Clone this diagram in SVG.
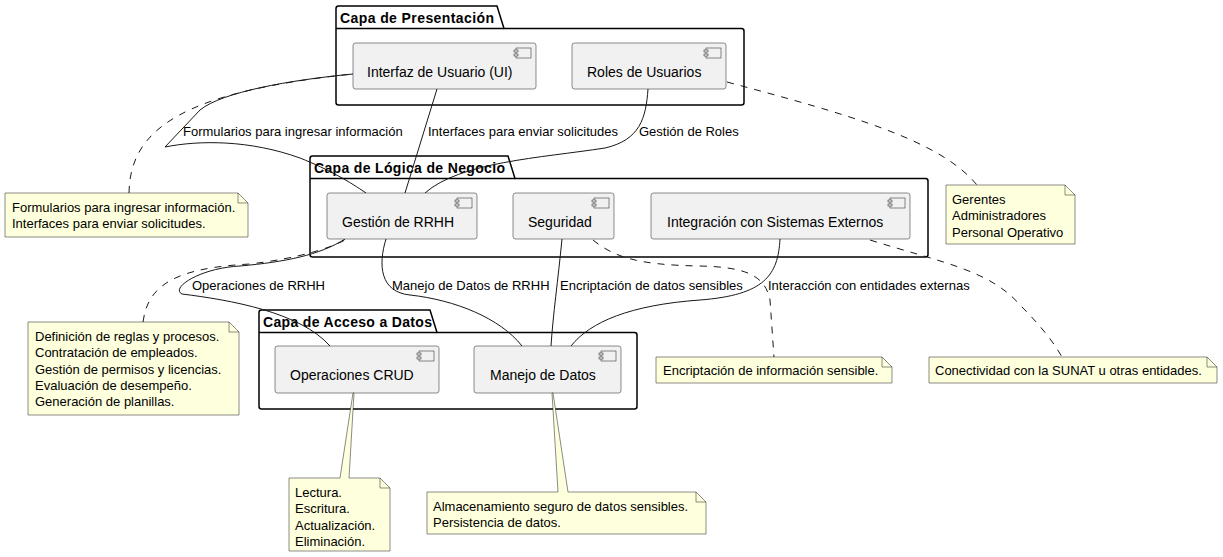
<svg xmlns="http://www.w3.org/2000/svg" width="1223" height="557" viewBox="0 0 1223 557">
<style>
text{font-family:"Liberation Sans",Arial,sans-serif;fill:#000}
.pt{font-size:14px;font-weight:bold}
.ct{font-size:14px}
.lt{font-size:13px}
.nt{font-size:13px}
.pkg{fill:none;stroke:#000;stroke-width:1.5}
.comp{fill:#F1F1F1;stroke:#181818;stroke-width:0.5}
.icon{fill:#F1F1F1;stroke:#181818;stroke-width:0.5}
.note{fill:#FEFFDD;stroke:#181818;stroke-width:0.5}
.fold{fill:none;stroke:#181818;stroke-width:0.5}
.edge{fill:none;stroke:#181818;stroke-width:1}
.dash{fill:none;stroke:#181818;stroke-width:1;stroke-dasharray:7,7}
</style>
<defs>
<g id="cicon">
<rect class="icon" x="0" y="0" width="15" height="10"/>
<rect class="icon" x="-2" y="2" width="4" height="2"/>
<rect class="icon" x="-2" y="6" width="4" height="2"/>
</g>
</defs>
<rect width="1223" height="557" fill="#FFFFFF"/>

<g id="pkg-presentacion">
<path class="pkg" d="M338.5,6 L497,6 L504,28.5 L741.5,28.5 A2.5,2.5 0 0 1 744,31 L744,102.5 A2.5,2.5 0 0 1 741.5,105 L338.5,105 A2.5,2.5 0 0 1 336,102.5 L336,8.5 A2.5,2.5 0 0 1 338.5,6 Z"/>
<line class="pkg" x1="336" y1="28.5" x2="504" y2="28.5"/>
<text class="pt" x="340" y="23" textLength="154" lengthAdjust="spacing">Capa de Presentación</text>
</g>
<g id="pkg-logica">
<path class="pkg" d="M312.5,156 L508,156 L515,178.5 L925.5,178.5 A2.5,2.5 0 0 1 928,181 L928,254.5 A2.5,2.5 0 0 1 925.5,257 L312.5,257 A2.5,2.5 0 0 1 310,254.5 L310,158.5 A2.5,2.5 0 0 1 312.5,156 Z"/>
<line class="pkg" x1="310" y1="178.5" x2="515" y2="178.5"/>
<text class="pt" x="314" y="173" textLength="191" lengthAdjust="spacing">Capa de Lógica de Negocio</text>
</g>
<g id="pkg-acceso">
<path class="pkg" d="M261.5,310 L430,310 L437,332.5 L634.5,332.5 A2.5,2.5 0 0 1 637,335 L637,406.5 A2.5,2.5 0 0 1 634.5,409 L261.5,409 A2.5,2.5 0 0 1 259,406.5 L259,312.5 A2.5,2.5 0 0 1 261.5,310 Z"/>
<line class="pkg" x1="259" y1="332.5" x2="437" y2="332.5"/>
<text class="pt" x="263" y="327" textLength="169" lengthAdjust="spacing">Capa de Acceso a Datos</text>
</g>

<g id="connectors">
<path class="dash" d="M129,193 C130,130 180,92 353,74"/>
<path class="edge" d="M353,74 C290,80 222,92 200,110 L165,147 C200,140 250,140 300,158 C330,170 350,182 366,193"/>
<text class="lt" x="183" y="136">Formularios para ingresar información</text>
<path class="edge" d="M437,89 L405,193"/>
<text class="lt" x="428" y="136">Interfaces para enviar solicitudes</text>
<path class="edge" d="M648,89 C646,118 640,140 605,148 C540,158 460,162 425,193"/>
<text class="lt" x="639" y="136">Gestión de Roles</text>
<path class="dash" d="M727,82 C850,115 940,140 977,185"/>
<path class="dash" d="M143,322 C148,285 175,268 250,264 C300,258 330,248 345,240"/>
<path class="edge" d="M345,239 C320,255 285,262 240,266 C200,268 170,288 182,294 C230,300 300,312 330,346"/>
<text class="lt" x="192" y="290">Operaciones de RRHH</text>
<path class="edge" d="M386,239 C378,265 380,292 410,295 C455,300 500,318 522,346"/>
<text class="lt" x="392" y="290">Manejo de Datos de RRHH</text>
<path class="edge" d="M562,239 C558,280 553,315 551,346"/>
<text class="lt" x="560" y="290">Encriptación de datos sensibles</text>
<path class="edge" d="M780,239 C778,275 765,295 700,300 C630,305 590,322 571,346"/>
<text class="lt" x="768" y="290">Interacción con entidades externas</text>
<path class="dash" d="M593,240 C615,258 640,265 700,266 C745,267 765,275 770,300 L774,357"/>
<path class="dash" d="M870,240 C940,262 990,270 1020,305 C1045,330 1055,345 1062,357"/>
</g>

<g id="interfaz-ui">
<rect class="comp" x="353" y="43" width="183" height="46" rx="2.5"/>
<use href="#cicon" x="516" y="48"/>
<text class="ct" x="367" y="77">Interfaz de Usuario (UI)</text>
</g>
<g id="roles-usuarios">
<rect class="comp" x="572" y="43" width="154" height="46" rx="2.5"/>
<use href="#cicon" x="706" y="48"/>
<text class="ct" x="587" y="77">Roles de Usuarios</text>
</g>
<g id="gestion-rrhh">
<rect class="comp" x="327" y="193" width="150" height="46" rx="2.5"/>
<use href="#cicon" x="457" y="198"/>
<text class="ct" x="342" y="227">Gestión de RRHH</text>
</g>
<g id="seguridad">
<rect class="comp" x="513" y="193" width="101" height="46" rx="2.5"/>
<use href="#cicon" x="594" y="198"/>
<text class="ct" x="528" y="227">Seguridad</text>
</g>
<g id="integracion">
<rect class="comp" x="651" y="193" width="259" height="46" rx="2.5"/>
<use href="#cicon" x="890" y="198"/>
<text class="ct" x="667" y="227">Integración con Sistemas Externos</text>
</g>
<g id="operaciones-crud">
<rect class="comp" x="275" y="346" width="164" height="47" rx="2.5"/>
<use href="#cicon" x="419" y="351"/>
<text class="ct" x="290" y="380">Operaciones CRUD</text>
</g>
<g id="manejo-datos">
<rect class="comp" x="474" y="346" width="147" height="47" rx="2.5"/>
<use href="#cicon" x="601" y="351"/>
<text class="ct" x="490" y="380">Manejo de Datos</text>
</g>

<g id="note-ui">
<path class="note" d="M5,193 L238,193 L248,203 L248,237 L5,237 Z"/>
<path class="fold" d="M238,193 L238,203 L248,203"/>
<text class="nt" x="12" y="212">Formularios para ingresar información.</text>
<text class="nt" x="12" y="228">Interfaces para enviar solicitudes.</text>
</g>
<g id="note-roles">
<path class="note" d="M946,185 L1065,185 L1075,195 L1075,244 L946,244 Z"/>
<path class="fold" d="M1065,185 L1065,195 L1075,195"/>
<text class="nt" x="952" y="204">Gerentes</text>
<text class="nt" x="952" y="220.3">Administradores</text>
<text class="nt" x="952" y="236.6">Personal Operativo</text>
</g>
<g id="note-gestion">
<path class="note" d="M28,322 L229,322 L239,332 L239,415 L28,415 Z"/>
<path class="fold" d="M229,322 L229,332 L239,332"/>
<text class="nt" x="35" y="341">Definición de reglas y procesos.</text>
<text class="nt" x="35" y="357.3">Contratación de empleados.</text>
<text class="nt" x="35" y="373.6">Gestión de permisos y licencias.</text>
<text class="nt" x="35" y="389.9">Evaluación de desempeño.</text>
<text class="nt" x="35" y="406.2">Generación de planillas.</text>
</g>
<g id="note-seguridad">
<path class="note" d="M656,357 L882,357 L892,367 L892,383 L656,383 Z"/>
<path class="fold" d="M882,357 L882,367 L892,367"/>
<text class="nt" x="663" y="375">Encriptación de información sensible.</text>
</g>
<g id="note-integracion">
<path class="note" d="M929,357 L1207,357 L1217,367 L1217,383 L929,383 Z"/>
<path class="fold" d="M1207,357 L1207,367 L1217,367"/>
<text class="nt" x="935" y="375">Conectividad con la SUNAT u otras entidades.</text>
</g>
<g id="note-crud">
<path class="note" d="M353,393 L354,393 L349,478 L380,478 L390,488 L390,551 L289,551 L289,478 L340,478 Z"/>
<path class="fold" d="M380,478 L380,488 L390,488"/>
<text class="nt" x="295" y="497">Lectura.</text>
<text class="nt" x="295" y="513.3">Escritura.</text>
<text class="nt" x="295" y="529.6">Actualización.</text>
<text class="nt" x="295" y="545.9">Eliminación.</text>
</g>
<g id="note-manejo">
<path class="note" d="M552,393 L553,393 L568,492 L696,492 L706,502 L706,534 L427,534 L427,492 L558,492 Z"/>
<path class="fold" d="M696,492 L696,502 L706,502"/>
<text class="nt" x="433" y="511">Almacenamiento seguro de datos sensibles.</text>
<text class="nt" x="433" y="527">Persistencia de datos.</text>
</g>
</svg>
